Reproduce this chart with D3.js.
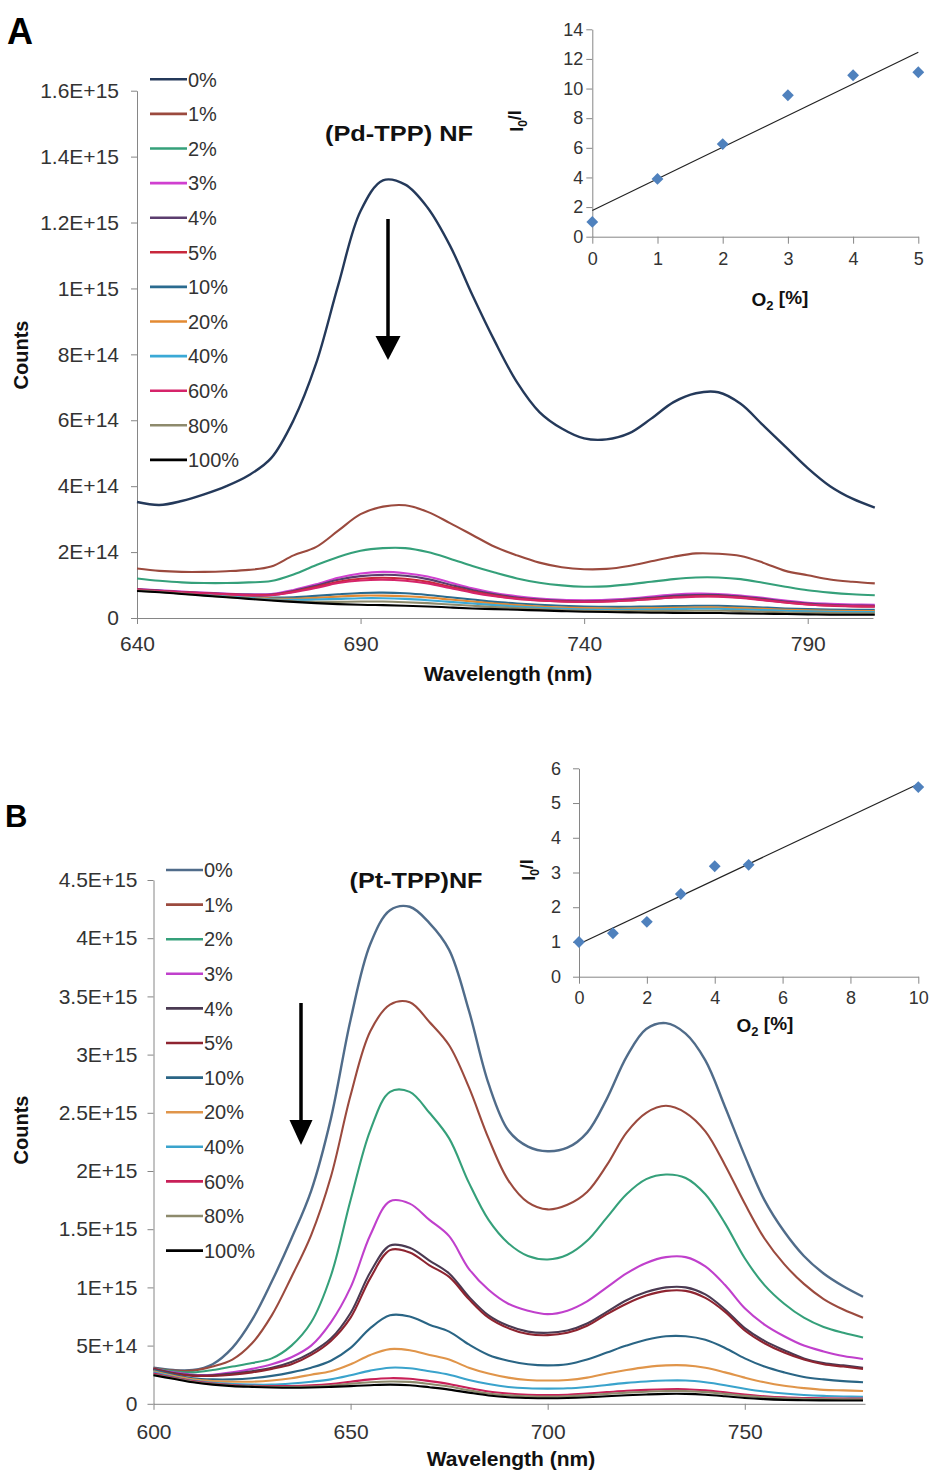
<!DOCTYPE html>
<html><head><meta charset="utf-8">
<script src="https://cdn.jsdelivr.net/npm/d3@7"></script>
<style>body{margin:0;background:#fff}svg{display:block}</style>
</head><body>
<svg id="c" width="932" height="1470"></svg>
<script>
// ---------- DATA ----------
const seriesLabels = ["0%","1%","2%","3%","4%","5%","10%","20%","40%","60%","80%","100%"];

// Panel A : (Pd-TPP) NF, counts in units of 1E14
const wlA = [640,645,650,655,660,665,670,675,680,685,690,695,700,705,710,715,720,725,730,735,740,745,750,755,760,765,770,775,780,785,790,795,800,805];
const pd0   = [3.52,3.43,3.55,3.75,4.0,4.33,4.85,6.0,7.7,10.1,12.35,13.28,13.15,12.45,11.3,9.8,8.4,7.15,6.25,5.75,5.45,5.42,5.6,6.05,6.55,6.82,6.85,6.5,5.85,5.2,4.55,4.0,3.62,3.35];
const pd1   = [1.50,1.43,1.40,1.40,1.42,1.46,1.56,1.90,2.15,2.65,3.15,3.38,3.42,3.22,2.88,2.52,2.16,1.90,1.68,1.54,1.48,1.49,1.58,1.72,1.86,1.96,1.95,1.88,1.68,1.43,1.30,1.17,1.10,1.05];
const pd2   = [1.20,1.13,1.08,1.06,1.06,1.08,1.12,1.32,1.60,1.85,2.04,2.12,2.12,2.00,1.80,1.58,1.38,1.20,1.07,0.99,0.95,0.96,1.02,1.10,1.18,1.23,1.23,1.18,1.07,0.95,0.84,0.77,0.72,0.69];
const pd3   = [0.88,0.84,0.80,0.77,0.74,0.72,0.73,0.85,1.02,1.22,1.35,1.40,1.36,1.26,1.08,0.90,0.76,0.66,0.59,0.55,0.54,0.55,0.59,0.65,0.71,0.74,0.73,0.68,0.61,0.53,0.46,0.43,0.41,0.40];
const pd4   = [0.87,0.83,0.79,0.76,0.73,0.71,0.71,0.82,0.98,1.16,1.27,1.31,1.28,1.18,1.01,0.85,0.72,0.62,0.56,0.52,0.51,0.52,0.56,0.61,0.67,0.70,0.70,0.65,0.58,0.50,0.44,0.40,0.38,0.37];
const pd5   = [0.86,0.82,0.78,0.75,0.72,0.70,0.70,0.80,0.94,1.10,1.19,1.22,1.19,1.10,0.95,0.80,0.68,0.59,0.53,0.50,0.49,0.50,0.53,0.58,0.63,0.66,0.66,0.62,0.55,0.47,0.41,0.37,0.35,0.34];
const pd10  = [0.85,0.81,0.77,0.73,0.69,0.65,0.62,0.63,0.67,0.72,0.76,0.77,0.75,0.70,0.63,0.56,0.49,0.44,0.40,0.37,0.35,0.34,0.34,0.35,0.36,0.37,0.37,0.35,0.32,0.29,0.27,0.26,0.25,0.25];
const pd20  = [0.84,0.80,0.76,0.72,0.68,0.63,0.59,0.58,0.61,0.65,0.68,0.68,0.66,0.62,0.56,0.50,0.44,0.39,0.35,0.32,0.30,0.29,0.29,0.30,0.31,0.32,0.32,0.30,0.28,0.25,0.23,0.22,0.21,0.21];
const pd40  = [0.84,0.80,0.75,0.71,0.66,0.61,0.57,0.55,0.56,0.58,0.60,0.60,0.58,0.54,0.49,0.44,0.39,0.35,0.31,0.28,0.26,0.25,0.25,0.26,0.27,0.28,0.28,0.26,0.24,0.22,0.20,0.19,0.18,0.18];
const pd60  = [0.86,0.82,0.78,0.75,0.72,0.69,0.69,0.78,0.91,1.06,1.14,1.16,1.13,1.05,0.91,0.77,0.66,0.58,0.53,0.50,0.49,0.50,0.53,0.57,0.62,0.65,0.65,0.61,0.54,0.47,0.41,0.38,0.36,0.35];
const pd80  = [0.83,0.79,0.74,0.69,0.64,0.59,0.55,0.51,0.49,0.49,0.50,0.50,0.48,0.45,0.41,0.37,0.33,0.30,0.27,0.24,0.22,0.21,0.21,0.21,0.22,0.22,0.22,0.21,0.19,0.17,0.16,0.15,0.14,0.14];
const pd100 = [0.82,0.78,0.73,0.68,0.63,0.58,0.53,0.49,0.45,0.42,0.40,0.39,0.37,0.35,0.32,0.29,0.27,0.25,0.23,0.21,0.19,0.18,0.17,0.16,0.155,0.15,0.15,0.14,0.13,0.12,0.11,0.10,0.10,0.10];

// Panel B : (Pt-TPP)NF, counts in units of 1E14
const wlB = [600,605,610,615,620,625,630,635,640,645,650,655,660,665,670,675,680,685,690,695,700,705,710,715,720,725,730,735,740,745,750,755,760,765,770,775,780];
const pt0   = [3.1,2.9,2.9,3.4,4.8,7.2,10.5,14.2,18.3,24.5,33.0,39.5,42.4,42.7,41.3,39.0,33.8,27.5,23.5,22.1,21.7,22.0,23.3,26.2,29.8,32.2,32.7,31.8,29.5,25.5,21.3,17.5,14.8,12.7,11.2,10.1,9.2];
const pt1   = [3.05,2.85,2.85,3.2,3.8,5.2,7.6,10.9,14.5,19.5,26.5,32.0,34.3,34.5,32.8,30.8,27.2,22.8,19.2,17.3,16.7,17.1,18.2,20.5,23.3,25.0,25.6,25.0,23.4,20.5,17.2,14.2,12.0,10.3,9.0,8.1,7.4];
const pt2   = [3.0,2.8,2.7,2.9,3.2,3.5,3.9,5.0,7.0,11.0,17.5,23.5,26.8,26.8,25.0,22.8,19.0,15.8,13.8,12.7,12.4,12.8,14.0,16.0,18.0,19.3,19.7,19.4,18.0,15.5,12.5,10.2,8.6,7.4,6.6,6.1,5.7];
const pt3   = [3.0,2.7,2.5,2.5,2.7,3.0,3.4,4.0,5.0,7.0,10.0,14.5,17.4,17.2,15.8,14.4,11.6,9.8,8.6,8.0,7.7,8.0,8.8,10.0,11.2,12.1,12.6,12.6,11.8,10.2,8.2,6.8,5.8,5.0,4.5,4.1,3.85];
const pt4   = [3.0,2.65,2.45,2.45,2.6,2.8,3.1,3.6,4.4,5.6,7.8,11.3,13.6,13.4,12.3,11.2,9.2,7.6,6.7,6.2,6.1,6.3,6.9,7.9,8.9,9.6,10.0,10.0,9.4,8.1,6.5,5.4,4.6,3.9,3.5,3.3,3.1];
const pt5   = [3.0,2.6,2.4,2.4,2.5,2.7,3.0,3.4,4.2,5.4,7.4,10.8,13.2,13.0,11.9,10.9,9.0,7.4,6.5,6.0,5.9,6.1,6.7,7.7,8.6,9.3,9.7,9.7,9.1,7.9,6.3,5.2,4.4,3.8,3.4,3.2,3.0];
const pt10  = [2.9,2.5,2.2,2.1,2.1,2.2,2.4,2.7,3.1,3.7,4.8,6.5,7.6,7.5,6.8,6.2,5.1,4.2,3.7,3.4,3.3,3.4,3.8,4.4,5.0,5.5,5.8,5.8,5.5,4.8,3.9,3.2,2.7,2.3,2.1,1.95,1.85];
const pt20  = [2.8,2.4,2.1,1.95,1.9,1.9,2.0,2.2,2.5,2.8,3.4,4.2,4.7,4.6,4.2,3.8,3.1,2.6,2.25,2.05,2.0,2.05,2.25,2.6,2.9,3.15,3.3,3.3,3.1,2.7,2.25,1.85,1.55,1.35,1.2,1.15,1.1];
const pt40  = [2.7,2.3,2.0,1.8,1.7,1.65,1.65,1.75,1.9,2.1,2.45,2.85,3.1,3.05,2.8,2.5,2.05,1.7,1.45,1.33,1.3,1.33,1.45,1.62,1.8,1.92,2.0,2.0,1.85,1.6,1.3,1.05,0.88,0.76,0.68,0.63,0.6];
const pt60  = [2.6,2.25,1.95,1.75,1.62,1.55,1.52,1.52,1.58,1.7,1.9,2.1,2.2,2.15,1.95,1.7,1.35,1.05,0.88,0.78,0.75,0.78,0.88,1.0,1.12,1.2,1.25,1.25,1.15,0.98,0.8,0.65,0.55,0.5,0.47,0.46,0.45];
const pt80  = [2.5,2.2,1.9,1.7,1.57,1.5,1.46,1.45,1.48,1.56,1.72,1.85,1.92,1.88,1.7,1.48,1.16,0.88,0.72,0.64,0.62,0.65,0.74,0.85,0.96,1.04,1.1,1.1,1.0,0.85,0.68,0.55,0.47,0.42,0.4,0.39,0.38];
const pt100 = [2.45,2.15,1.85,1.65,1.52,1.45,1.4,1.38,1.4,1.45,1.52,1.6,1.65,1.6,1.42,1.22,0.96,0.72,0.56,0.5,0.48,0.5,0.56,0.65,0.73,0.8,0.85,0.85,0.78,0.65,0.5,0.4,0.34,0.31,0.29,0.28,0.28];

// Axis ticks
const yTickValsA = [0,2e14,4e14,6e14,8e14,1e15,1.2e15,1.4e15,1.6e15];
const yTickLabelsA = ["0","2E+14","4E+14","6E+14","8E+14","1E+15","1.2E+15","1.4E+15","1.6E+15"];
const xTicksA = [640,690,740,790];
const yTickValsB = [0,5e14,1e15,1.5e15,2e15,2.5e15,3e15,3.5e15,4e15,4.5e15];
const yTickLabelsB = ["0","5E+14","1E+15","1.5E+15","2E+15","2.5E+15","3E+15","3.5E+15","4E+15","4.5E+15"];
const xTicksB = [600,650,700,750];

// Insets (Stern-Volmer)
const o2A = [0,1,2,3,4,5];
const ratioA = [1.0,3.9,6.25,9.55,10.9,11.1];
const fitXA = [0,5];
const fitYA = [1.77,12.45];
const insetYTicksA = [0,2,4,6,8,10,12,14];
const insetXTicksA = [0,1,2,3,4,5];

const o2B = [0,1,2,3,4,5,10];
const ratioB = [1.0,1.25,1.58,2.38,3.18,3.22,5.46];
const fitXB = [0,10];
const fitYB = [0.94,5.55];
const insetYTicksB = [0,1,2,3,4,5,6];
const insetXTicksB = [0,2,4,6,8,10];

const colorsA = ["#24395a","#9b4a3e","#35a07a","#d040d0","#5b3d6e","#c8283c","#2a6b8f","#e38a32","#3aa9d6","#d6246a","#8d8a6c","#000000"];
const colorsB = ["#506c8a","#9b4a3e","#35a07a","#c040cc","#4a3a52","#8e2430","#2a6585","#e0954a","#3aa3cc","#c82058","#8d8a6c","#000000"];

// ---------- DRAW ----------
const FONT = "'Liberation Sans', Arial, Helvetica, sans-serif";
const AX = "#868686", TXT = "#333";
const svg = d3.select("#c").style("font-family", FONT);
svg.append("rect").attr("width",932).attr("height",1470).attr("fill","#fff");

function styleAxis(g, fs){
  g.selectAll("path,line").attr("stroke", AX).attr("stroke-width",1);
  g.selectAll("text").attr("fill", TXT).style("font-size", fs+"px").style("font-family", FONT);
}

function panel(o){
  const g = svg.append("g");
  const x = d3.scaleLinear().domain(o.xDomain).range(o.xRange);
  const y = d3.scaleLinear().domain(o.yDomain).range(o.yRange);

  const ya = d3.axisLeft(y).tickValues(o.yTickVals).tickFormat((d,i)=>o.yTickLabels[i])
    .tickSize(6).tickPadding(o.yPad).tickSizeOuter(0);
  styleAxis(g.append("g").attr("transform",`translate(${o.xRange[0]},0)`).call(ya), 21);
  const xa = d3.axisBottom(x).tickValues(o.xTicks).tickFormat(d3.format("d"))
    .tickSize(6).tickPadding(o.xPad).tickSizeOuter(0);
  styleAxis(g.append("g").attr("transform",`translate(0,${o.yRange[0]})`).call(xa), 21);

  const line = d3.line().curve(d3.curveCatmullRom.alpha(0.5));
  o.series.forEach((vals,k)=>{
    g.append("path")
      .attr("d", line(vals.map((v,i)=>[x(o.wl[i]), y(v*1e14)])))
      .attr("fill","none").attr("stroke", o.colors[k])
      .attr("stroke-width", k===0 ? 2.4 : 2.1).attr("stroke-linejoin","round");
  });

  // legend
  seriesLabels.forEach((lab,k)=>{
    const yy = o.legY + k*34.6;
    g.append("line").attr("x1",o.legX).attr("x2",o.legX+37).attr("y1",yy).attr("y2",yy)
      .attr("stroke",o.colors[k]).attr("stroke-width",2.6);
    g.append("text").attr("x",o.legX+38).attr("y",yy).attr("dy","0.36em")
      .style("font-size","20px").attr("fill",TXT).text(lab);
  });

  // titles
  g.append("text").attr("x",o.xTitleX).attr("y",o.xTitleY).attr("text-anchor","middle")
    .style("font-size","21px").style("font-weight","bold").attr("fill","#111").text("Wavelength (nm)");
  g.append("text").attr("transform",`translate(${o.cntX},${o.cntY}) rotate(-90)`).attr("text-anchor","middle")
    .style("font-size","20px").style("font-weight","bold").attr("fill","#111").text("Counts");
  g.append("text").attr("x",o.panelX).attr("y",o.panelY)
    .style("font-size",o.panelFs+"px").style("font-weight","bold").attr("fill","#000").text(o.panel);
  g.append("text").attr("x",o.nameX).attr("y",o.nameY).attr("text-anchor","middle")
    .attr("textLength",o.nameLen).attr("lengthAdjust","spacingAndGlyphs")
    .style("font-size","22px").style("font-weight","bold").attr("fill","#111").text(o.name);

  // arrow
  const a = o.arrow;
  g.append("line").attr("x1",a.x).attr("x2",a.x).attr("y1",a.y1).attr("y2",a.y2+2)
    .attr("stroke","#000").attr("stroke-width",3.5);
  g.append("path").attr("d",`M${a.x-a.hw},${a.y2} L${a.x+a.hw},${a.y2} L${a.x},${a.tip} Z`).attr("fill","#000");
}

function inset(o){
  const g = svg.append("g");
  const x = d3.scaleLinear().domain(o.xDomain).range(o.xRange);
  const y = d3.scaleLinear().domain(o.yDomain).range(o.yRange);
  const ya = d3.axisLeft(y).tickValues(o.yTicks).tickFormat(d3.format("d")).tickSize(6).tickPadding(o.yPad).tickSizeOuter(0);
  styleAxis(g.append("g").attr("transform",`translate(${o.xRange[0]},0)`).call(ya), 18);
  const xa = d3.axisBottom(x).tickValues(o.xTicks).tickFormat(d3.format("d")).tickSize(7).tickPadding(o.xPad).tickSizeOuter(0);
  styleAxis(g.append("g").attr("transform",`translate(0,${o.yRange[0]})`).call(xa), 18);

  g.append("line").attr("x1",x(o.fitX[0])).attr("y1",y(o.fitY[0])).attr("x2",x(o.fitX[1])).attr("y2",y(o.fitY[1]))
    .attr("stroke","#222").attr("stroke-width",1.2);
  const sym = d3.symbol().type(d3.symbolSquare).size(70);
  o.xs.forEach((xv,i)=>{
    g.append("path").attr("d",sym()).attr("fill","#4f81bd")
      .attr("transform",`translate(${x(xv)},${y(o.ys[i])}) rotate(45)`);
  });
  // y title I0/I
  const yt = g.append("text").attr("transform",`translate(${o.yTitleX},${o.yTitleY}) rotate(-90)`).attr("text-anchor","middle")
    .style("font-size","18px").style("font-weight","bold").attr("fill","#111");
  yt.append("tspan").text("I");
  yt.append("tspan").attr("dy","0.3em").style("font-size","12px").text("0");
  yt.append("tspan").attr("dy","-0.3em").text("/I");
  // x title O2 [%]
  const xt = g.append("text").attr("x",o.xTitleX).attr("y",o.xTitleY).attr("text-anchor","middle")
    .style("font-size","19px").style("font-weight","bold").attr("fill","#111");
  xt.append("tspan").text("O");
  xt.append("tspan").attr("dy","0.3em").style("font-size","13px").text("2");
  xt.append("tspan").attr("dy","-0.3em").text(" [%]");
}

panel({
  wl: wlA, series:[pd0,pd1,pd2,pd3,pd4,pd5,pd10,pd20,pd40,pd60,pd80,pd100], colors: colorsA,
  xDomain:[640,804.6], xRange:[137,873], yDomain:[0,1.6e15], yRange:[618,90.7],
  yTickVals:yTickValsA, yTickLabels:yTickLabelsA, xTicks:xTicksA, yPad:12, xPad:12,
  legX:150, legY:79.3, xTitleX:508, xTitleY:681, cntX:28, cntY:355,
  panel:"A", panelX:7, panelY:44, panelFs:36,
  name:"(Pd-TPP) NF", nameX:399, nameY:141, nameLen:148,
  arrow:{x:388, y1:219, y2:336, tip:360, hw:12.5}
});
panel({
  wl: wlB, series:[pt0,pt1,pt2,pt3,pt4,pt5,pt10,pt20,pt40,pt60,pt80,pt100], colors: colorsB,
  xDomain:[600,780.5], xRange:[153.5,865], yDomain:[0,4.5e15], yRange:[1403.8,880],
  yTickVals:yTickValsB, yTickLabels:yTickLabelsB, xTicks:xTicksB, yPad:10, xPad:14,
  legX:166, legY:870, xTitleX:511, xTitleY:1466, cntX:28, cntY:1130,
  panel:"B", panelX:5, panelY:827, panelFs:31,
  name:"(Pt-TPP)NF", nameX:416, nameY:888, nameLen:133,
  arrow:{x:301, y1:1003, y2:1120, tip:1145, hw:11.5}
});

inset({
  xDomain:[0,5], xRange:[592.3,918.3], yDomain:[0,14], yRange:[236.7,29.3],
  yTicks:insetYTicksA, xTicks:insetXTicksA, yPad:3, xPad:9,
  xs:o2A, ys:ratioA, fitX:fitXA, fitY:fitYA,
  yTitleX:523, yTitleY:121, xTitleX:780, xTitleY:306
});
inset({
  xDomain:[0,10], xRange:[579,918.3], yDomain:[0,6], yRange:[976.7,768.3],
  yTicks:insetYTicksB, xTicks:insetXTicksB, yPad:12, xPad:8,
  xs:o2B, ys:ratioB, fitX:fitXB, fitY:fitYB,
  yTitleX:535, yTitleY:870, xTitleX:765, xTitleY:1032
});
</script>
</body></html>
